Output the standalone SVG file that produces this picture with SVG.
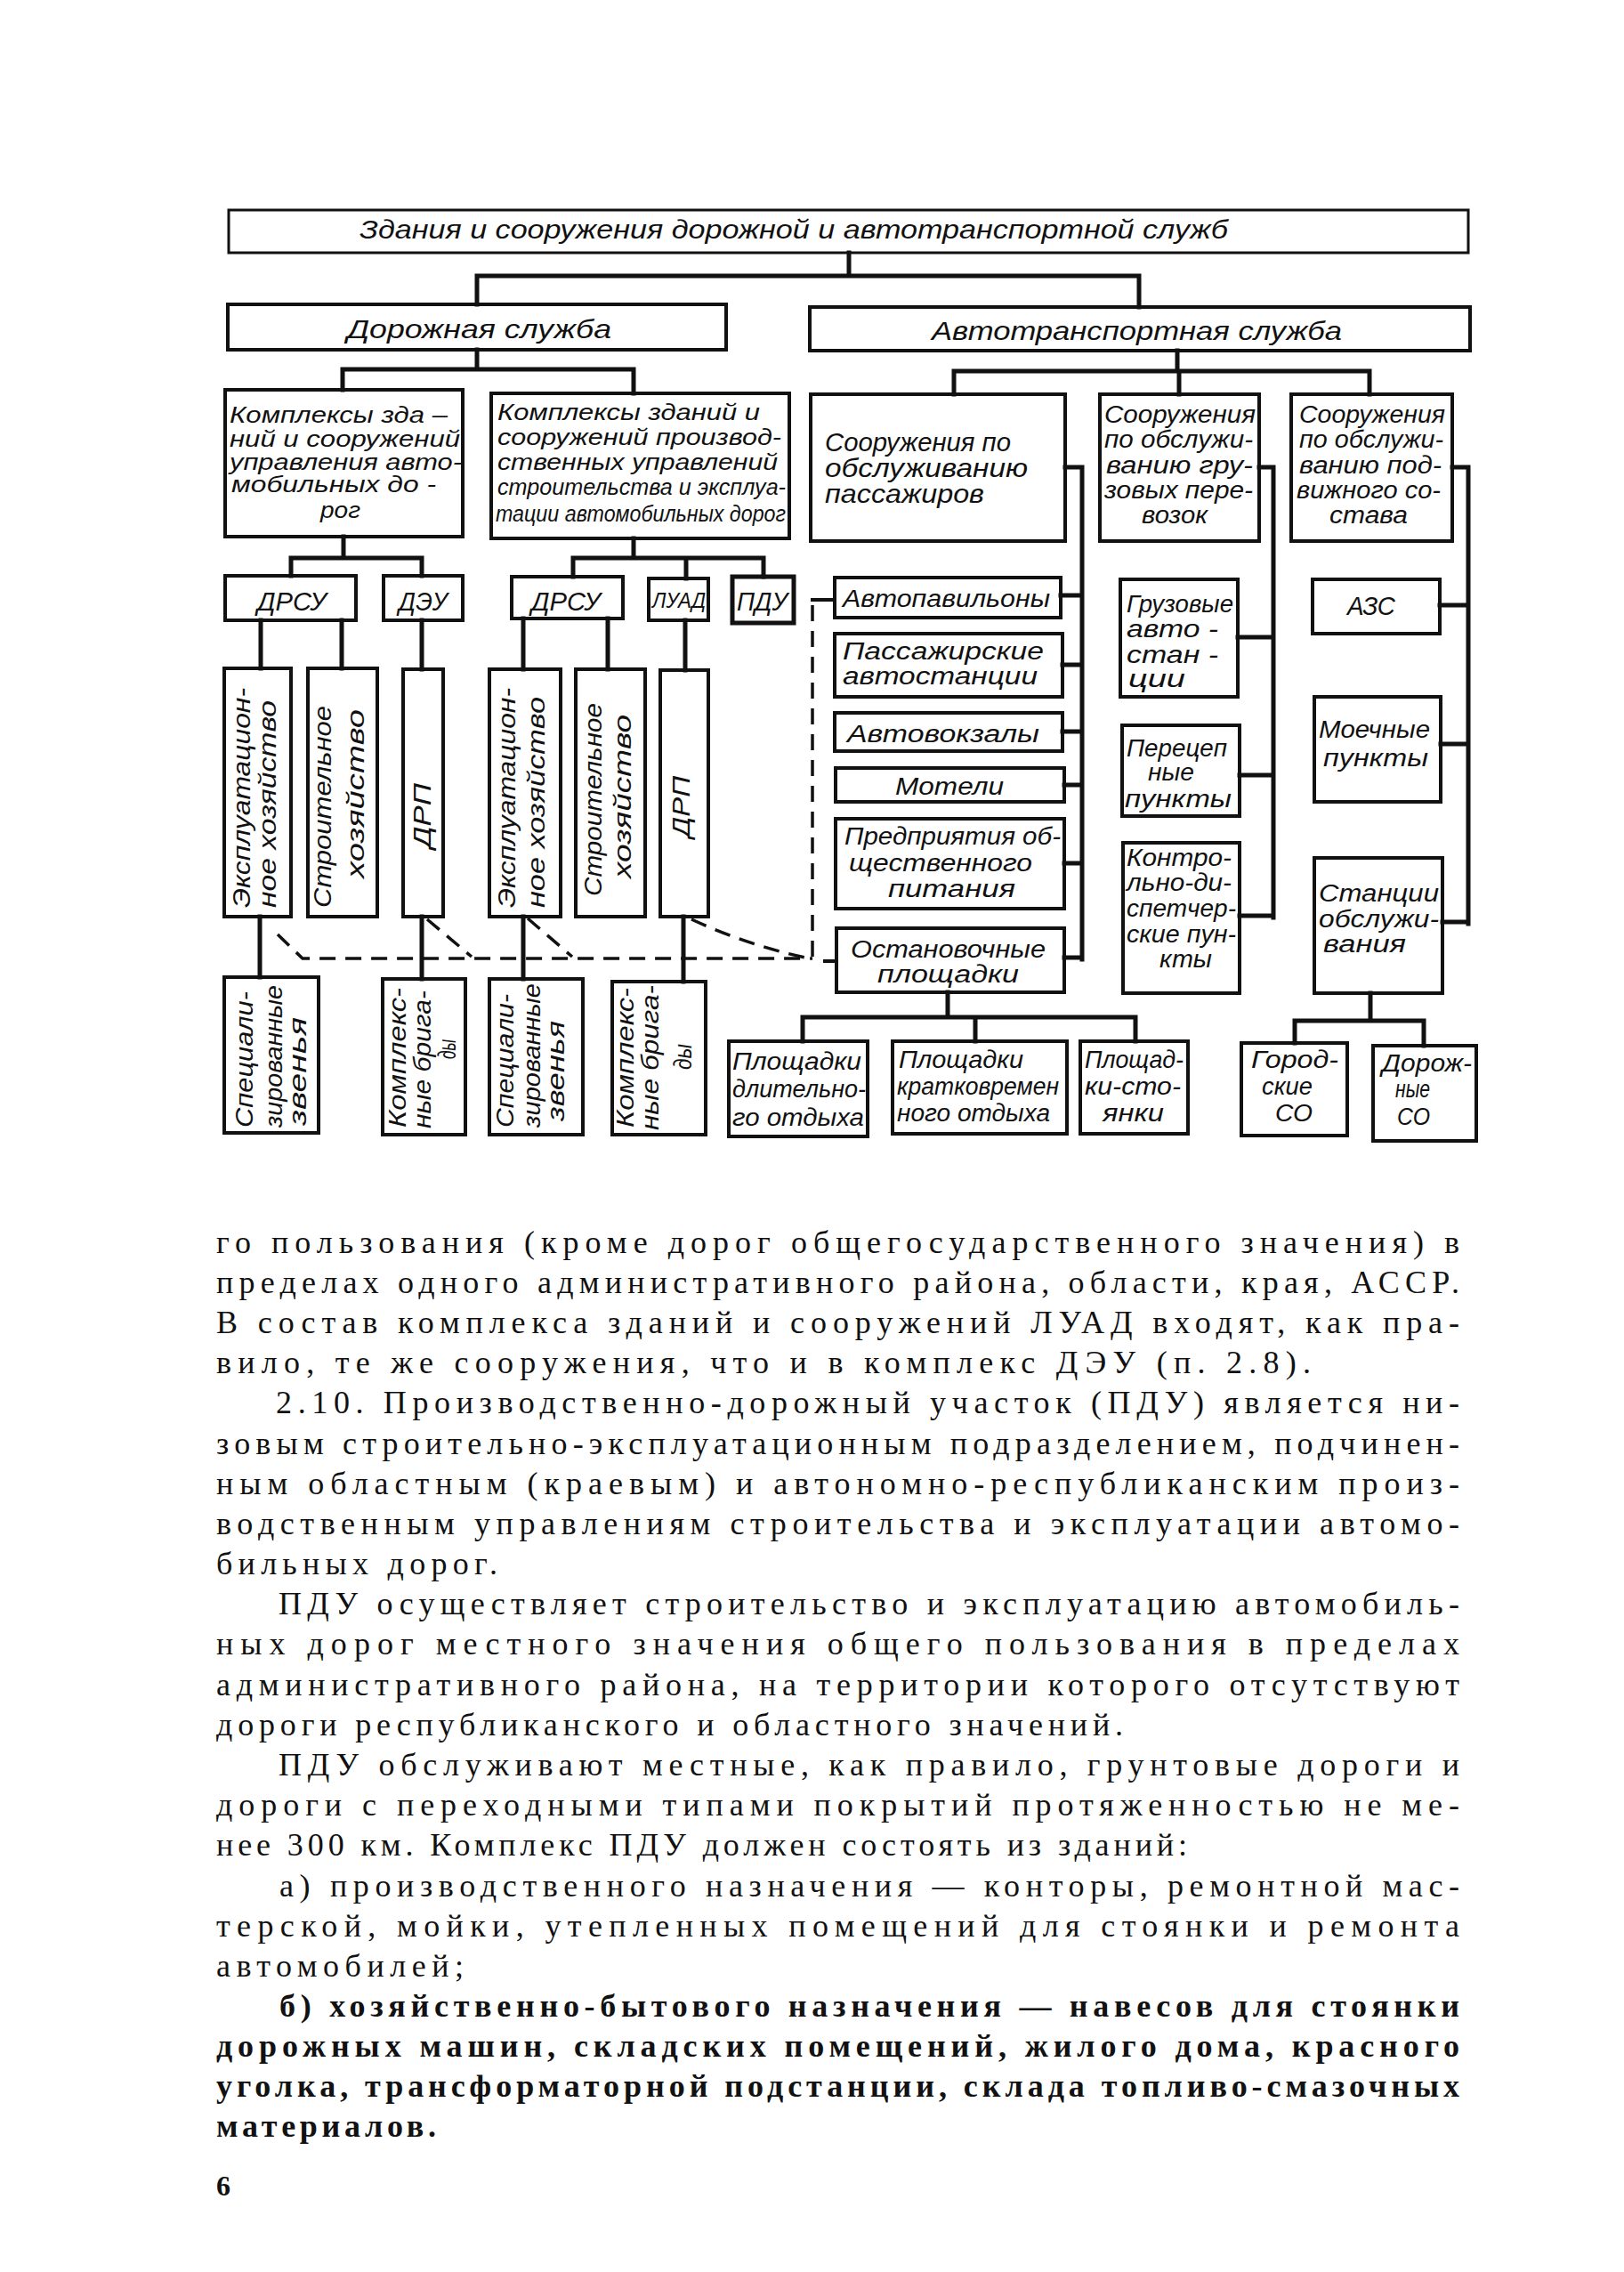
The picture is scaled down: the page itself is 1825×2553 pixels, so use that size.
<svg xmlns="http://www.w3.org/2000/svg" width="1825" height="2553" viewBox="0 0 1825 2553">
<style>
.box{fill:none;stroke:#111;stroke-width:4}
.ln{fill:none;stroke:#111;stroke-width:5;stroke-linecap:square}
.dash{fill:none;stroke:#111;stroke-width:3.5;stroke-dasharray:18 11}
.d{font-family:"Liberation Sans","DejaVu Sans",sans-serif;font-style:italic;fill:#111;font-size:27px}
.k{font-size:25px}
.big{font-size:30px}
.sm{font-size:23px}
.p{font-family:"Liberation Serif","DejaVu Serif",serif;font-size:36px;fill:#111}
.pb{font-weight:bold}
</style>
<rect x="0" y="0" width="1825" height="2553" fill="#fff"/>
<g id="connectors">
<path class="ln" d="M954 284V310M536 310H1280M536 310V342M1280 310V345"/>
<path class="ln" d="M536 393V415M385 415H712M385 415V438M712 415V442"/>
<path class="ln" d="M1323 394V417M1072 417H1539M1072 417V443M1325 417V443M1539 417V443"/>
<path class="ln" d="M386 603V627M327 627H474M327 627V647M474 627V647"/>
<path class="ln" d="M712 605V627M644 627H858M644 627V648M771 627V650M858 627V648"/>
<path class="ln" d="M293 697V751M384 697V751M474 697V752M588 695V752M683 695V752M770 697V753"/>
<path class="ln" d="M292 1030V1098M474 1030V1100M588 1030V1100M768 1030V1103"/>
<path class="ln" d="M1197 525H1216V1078M1192 669H1216M1194 747H1216M1194 822H1216M1196 882H1216M1196 970H1216M1196 1076H1216"/>
<path class="ln" d="M1415 525H1431V1031M1391 716H1431M1393 871H1431M1393 1029H1431"/>
<path class="ln" d="M1632 525H1650V1038M1618 680H1650M1619 836H1650M1621 1036H1650"/>
<path class="ln" d="M1540 1116V1147M1455 1147H1600M1455 1147V1172M1600 1147V1175"/>
<path class="ln" d="M1065 1115V1143M902 1143H1276M902 1143V1170M1096 1143V1170M1276 1143V1170"/>
<path class="ln" d="M913 674H938M927 1080H940" style="stroke-width:4"/>
<path class="dash" d="M913 680V1077"/>
<path class="dash" d="M312 1050L340 1077H913"/>
<path class="dash" d="M480 1033L530 1075"/>
<path class="dash" d="M593 1032L643 1075"/>
<path class="dash" d="M777 1033Q840 1062 905 1076"/>
</g>
<g id="n-top"><rect class="box" x="257" y="236" width="1393" height="48" style="stroke-width:3"/><text class="d big" x="404" y="268" textLength="976" lengthAdjust="spacingAndGlyphs">Здания и сооружения дорожной и автотранспортной служб</text></g>
<g id="n-dor"><rect class="box" x="256" y="342" width="560" height="51"/><text class="d big" x="390" y="380" textLength="297" lengthAdjust="spacingAndGlyphs">Дорожная служба</text></g>
<g id="n-avto"><rect class="box" x="910" y="345" width="742" height="49"/><text class="d big" x="1047" y="382" textLength="461" lengthAdjust="spacingAndGlyphs">Автотранспортная служба</text></g>
<g id="n-k1"><rect class="box" x="253" y="438" width="267" height="165"/>
<text class="d k" x="258" y="475" textLength="245" lengthAdjust="spacingAndGlyphs">Комплексы зда –</text>
<text class="d k" x="258" y="502" textLength="259" lengthAdjust="spacingAndGlyphs">ний и сооружений</text>
<text class="d k" x="258" y="528" textLength="261" lengthAdjust="spacingAndGlyphs">управления авто-</text>
<text class="d k" x="260" y="553" textLength="230" lengthAdjust="spacingAndGlyphs">мобильных до -</text>
<text class="d k" x="360" y="582" textLength="45" lengthAdjust="spacingAndGlyphs">рог</text></g>
<g id="n-k2"><rect class="box" x="552" y="442" width="335" height="163"/>
<text class="d k" x="559" y="472" textLength="295" lengthAdjust="spacingAndGlyphs">Комплексы зданий и</text>
<text class="d k" x="559" y="500" textLength="319" lengthAdjust="spacingAndGlyphs">сооружений производ-</text>
<text class="d k" x="559" y="528" textLength="315" lengthAdjust="spacingAndGlyphs">ственных управлений</text>
<text class="d k" x="559" y="556" textLength="324" lengthAdjust="spacingAndGlyphs">строительства и эксплуа-</text>
<text class="d k" x="557" y="586" textLength="326" lengthAdjust="spacingAndGlyphs">тации автомобильных дорог</text></g>
<g id="n-pass"><rect class="box" x="911" y="443" width="286" height="165"/>
<text class="d" style="font-size:29px" x="927" y="507" textLength="209" lengthAdjust="spacingAndGlyphs">Сооружения по</text>
<text class="d" style="font-size:29px" x="927" y="536" textLength="228" lengthAdjust="spacingAndGlyphs">обслуживанию</text>
<text class="d" style="font-size:29px" x="927" y="565" textLength="179" lengthAdjust="spacingAndGlyphs">пассажиров</text></g>
<g id="n-gruz"><rect class="box" x="1236" y="443" width="179" height="165"/>
<text class="d" x="1241" y="475" textLength="170" lengthAdjust="spacingAndGlyphs">Сооружения</text>
<text class="d" x="1241" y="503" textLength="167" lengthAdjust="spacingAndGlyphs">по обслужи-</text>
<text class="d" x="1243" y="532" textLength="165" lengthAdjust="spacingAndGlyphs">ванию гру-</text>
<text class="d" x="1241" y="560" textLength="167" lengthAdjust="spacingAndGlyphs">зовых пере-</text>
<text class="d" x="1283" y="588" textLength="74" lengthAdjust="spacingAndGlyphs">возок</text></g>
<g id="n-podv"><rect class="box" x="1451" y="443" width="181" height="165"/>
<text class="d" x="1460" y="475" textLength="164" lengthAdjust="spacingAndGlyphs">Сооружения</text>
<text class="d" x="1460" y="503" textLength="162" lengthAdjust="spacingAndGlyphs">по обслужи-</text>
<text class="d" x="1460" y="532" textLength="160" lengthAdjust="spacingAndGlyphs">ванию под-</text>
<text class="d" x="1457" y="560" textLength="162" lengthAdjust="spacingAndGlyphs">вижного со-</text>
<text class="d" x="1494" y="588" textLength="88" lengthAdjust="spacingAndGlyphs">става</text></g>
<g id="n-drsu1"><rect class="box" x="253" y="647" width="147" height="50"/><text class="d big" x="289" y="686" textLength="78" lengthAdjust="spacingAndGlyphs">ДРСУ</text></g>
<g id="n-deu"><rect class="box" x="431" y="647" width="89" height="50"/><text class="d big" x="448" y="686" textLength="55" lengthAdjust="spacingAndGlyphs">ДЭУ</text></g>
<g id="n-drsu2"><rect class="box" x="575" y="648" width="125" height="47"/><text class="d big" x="597" y="686" textLength="78" lengthAdjust="spacingAndGlyphs">ДРСУ</text></g>
<g id="n-luad"><rect class="box" x="729" y="650" width="67" height="47"/><text class="d sm" x="733" y="683" textLength="60" lengthAdjust="spacingAndGlyphs">ЛУАД</text></g>
<g id="n-pdu"><rect class="box" x="823" y="648" width="69" height="52" style="stroke-width:5"/><text class="d big" x="828" y="686" textLength="57" lengthAdjust="spacingAndGlyphs">ПДУ</text></g>
<g id="n-a"><rect class="box" x="252" y="751" width="75" height="279"/>
<text class="d" transform="translate(281 1020) rotate(-90)" textLength="247" lengthAdjust="spacingAndGlyphs">Эксплуатацион-</text>
<text class="d" transform="translate(310 1020) rotate(-90)" textLength="233" lengthAdjust="spacingAndGlyphs">ное хозяйство</text></g>
<g id="n-b"><rect class="box" x="346" y="751" width="78" height="279"/>
<text class="d" transform="translate(372 1020) rotate(-90)" textLength="227" lengthAdjust="spacingAndGlyphs">Строительное</text>
<text class="d" transform="translate(409 987) rotate(-90)" textLength="190" lengthAdjust="spacingAndGlyphs">хозяйство</text></g>
<g id="n-c"><rect class="box" x="453" y="752" width="45" height="278"/>
<text class="d" transform="translate(484 953) rotate(-90)" textLength="73" lengthAdjust="spacingAndGlyphs">ДРП</text></g>
<g id="n-d"><rect class="box" x="550" y="752" width="80" height="278"/>
<text class="d" transform="translate(579 1020) rotate(-90)" textLength="247" lengthAdjust="spacingAndGlyphs">Эксплуатацион-</text>
<text class="d" transform="translate(612 1020) rotate(-90)" textLength="237" lengthAdjust="spacingAndGlyphs">ное хозяйство</text></g>
<g id="n-e"><rect class="box" x="647" y="752" width="78" height="278"/>
<text class="d" transform="translate(676 1007) rotate(-90)" textLength="217" lengthAdjust="spacingAndGlyphs">Строительное</text>
<text class="d" transform="translate(709 987) rotate(-90)" textLength="184" lengthAdjust="spacingAndGlyphs">хозяйство</text></g>
<g id="n-f"><rect class="box" x="742" y="753" width="54" height="277"/>
<text class="d" transform="translate(775 941) rotate(-90)" textLength="69" lengthAdjust="spacingAndGlyphs">ДРП</text></g>
<g id="n-g"><rect class="box" x="252" y="1098" width="106" height="175"/>
<text class="d" transform="translate(284 1267) rotate(-90)" textLength="153" lengthAdjust="spacingAndGlyphs">Специали-</text>
<text class="d" transform="translate(317 1267) rotate(-90)" textLength="160" lengthAdjust="spacingAndGlyphs">зированные</text>
<text class="d" transform="translate(344 1265) rotate(-90)" textLength="122" lengthAdjust="spacingAndGlyphs">звенья</text></g>
<g id="n-h"><rect class="box" x="430" y="1100" width="93" height="175"/>
<text class="d" transform="translate(456 1267) rotate(-90)" textLength="157" lengthAdjust="spacingAndGlyphs">Комплекс-</text>
<text class="d" transform="translate(484 1268) rotate(-90)" textLength="155" lengthAdjust="spacingAndGlyphs">ные брига-</text>
<text class="d" transform="translate(512 1190) rotate(-90)" textLength="22" lengthAdjust="spacingAndGlyphs">ды</text></g>
<g id="n-i"><rect class="box" x="550" y="1100" width="105" height="175"/>
<text class="d" transform="translate(577 1267) rotate(-90)" textLength="150" lengthAdjust="spacingAndGlyphs">Специали-</text>
<text class="d" transform="translate(607 1267) rotate(-90)" textLength="162" lengthAdjust="spacingAndGlyphs">зированные</text>
<text class="d" transform="translate(634 1260) rotate(-90)" textLength="113" lengthAdjust="spacingAndGlyphs">звенья</text></g>
<g id="n-j"><rect class="box" x="688" y="1103" width="105" height="172"/>
<text class="d" transform="translate(712 1267) rotate(-90)" textLength="157" lengthAdjust="spacingAndGlyphs">Комплекс-</text>
<text class="d" transform="translate(740 1270) rotate(-90)" textLength="163" lengthAdjust="spacingAndGlyphs">ные брига-</text>
<text class="d" transform="translate(777 1202) rotate(-90)" textLength="29" lengthAdjust="spacingAndGlyphs">ды</text></g>
<g id="n-avtopav"><rect class="box" x="938" y="649" width="254" height="45"/><text class="d" x="947" y="682" textLength="233" lengthAdjust="spacingAndGlyphs">Автопавильоны</text></g>
<g id="n-passazh"><rect class="box" x="938" y="712" width="256" height="71"/>
<text class="d" x="947" y="741" textLength="226" lengthAdjust="spacingAndGlyphs">Пассажирские</text>
<text class="d" x="947" y="769" textLength="219" lengthAdjust="spacingAndGlyphs">автостанции</text></g>
<g id="n-avtovokz"><rect class="box" x="938" y="801" width="256" height="43"/><text class="d" x="952" y="834" textLength="216" lengthAdjust="spacingAndGlyphs">Автовокзалы</text></g>
<g id="n-moteli"><rect class="box" x="939" y="863" width="257" height="38"/><text class="d" x="1006" y="893" textLength="122" lengthAdjust="spacingAndGlyphs">Мотели</text></g>
<g id="n-predpr"><rect class="box" x="939" y="920" width="257" height="101"/>
<text class="d" x="949" y="949" textLength="243" lengthAdjust="spacingAndGlyphs">Предприятия об-</text>
<text class="d" x="954" y="979" textLength="206" lengthAdjust="spacingAndGlyphs">щественного</text>
<text class="d" x="998" y="1008" textLength="143" lengthAdjust="spacingAndGlyphs">питания</text></g>
<g id="n-ostan"><rect class="box" x="940" y="1043" width="256" height="72"/>
<text class="d" x="956" y="1076" textLength="219" lengthAdjust="spacingAndGlyphs">Остановочные</text>
<text class="d" x="986" y="1104" textLength="159" lengthAdjust="spacingAndGlyphs">площадки</text></g>
<g id="n-gruzav"><rect class="box" x="1259" y="651" width="132" height="132"/>
<text class="d" x="1266" y="688" textLength="120" lengthAdjust="spacingAndGlyphs">Грузовые</text>
<text class="d" x="1266" y="716" textLength="103" lengthAdjust="spacingAndGlyphs">авто -</text>
<text class="d" x="1266" y="745" textLength="103" lengthAdjust="spacingAndGlyphs">стан -</text>
<text class="d" x="1268" y="772" textLength="64" lengthAdjust="spacingAndGlyphs">ции</text></g>
<g id="n-perecep"><rect class="box" x="1261" y="815" width="132" height="102"/>
<text class="d" x="1266" y="850" textLength="113" lengthAdjust="spacingAndGlyphs">Перецеп</text>
<text class="d" x="1290" y="877" textLength="52" lengthAdjust="spacingAndGlyphs">ные</text>
<text class="d" x="1264" y="907" textLength="120" lengthAdjust="spacingAndGlyphs">пункты</text></g>
<g id="n-kontr"><rect class="box" x="1262" y="947" width="131" height="169"/>
<text class="d" x="1266" y="973" textLength="118" lengthAdjust="spacingAndGlyphs">Контро-</text>
<text class="d" x="1266" y="1001" textLength="118" lengthAdjust="spacingAndGlyphs">льно-ди-</text>
<text class="d" x="1266" y="1030" textLength="123" lengthAdjust="spacingAndGlyphs">спетчер-</text>
<text class="d" x="1266" y="1059" textLength="123" lengthAdjust="spacingAndGlyphs">ские пун-</text>
<text class="d" x="1303" y="1087" textLength="59" lengthAdjust="spacingAndGlyphs">кты</text></g>
<g id="n-azs"><rect class="box" x="1475" y="651" width="143" height="61"/><text class="d big" x="1514" y="691" textLength="54" lengthAdjust="spacingAndGlyphs">АЗС</text></g>
<g id="n-moech"><rect class="box" x="1477" y="783" width="142" height="118"/>
<text class="d" x="1482" y="829" textLength="125" lengthAdjust="spacingAndGlyphs">Моечные</text>
<text class="d" x="1487" y="861" textLength="118" lengthAdjust="spacingAndGlyphs">пункты</text></g>
<g id="n-stanc"><rect class="box" x="1477" y="964" width="144" height="152"/>
<text class="d" x="1482" y="1013" textLength="135" lengthAdjust="spacingAndGlyphs">Станции</text>
<text class="d" x="1482" y="1042" textLength="135" lengthAdjust="spacingAndGlyphs">обслужи-</text>
<text class="d" x="1487" y="1070" textLength="93" lengthAdjust="spacingAndGlyphs">вания</text></g>
<g id="n-pldlit"><rect class="box" x="819" y="1170" width="156" height="107"/>
<text class="d" x="823" y="1202" textLength="145" lengthAdjust="spacingAndGlyphs">Площадки</text>
<text class="d" x="823" y="1233" textLength="150" lengthAdjust="spacingAndGlyphs">длительно-</text>
<text class="d" x="823" y="1265" textLength="148" lengthAdjust="spacingAndGlyphs">го отдыха</text></g>
<g id="n-plkrat"><rect class="box" x="1003" y="1170" width="196" height="104"/>
<text class="d" x="1010" y="1200" textLength="140" lengthAdjust="spacingAndGlyphs">Площадки</text>
<text class="d" x="1008" y="1230" textLength="182" lengthAdjust="spacingAndGlyphs">кратковремен</text>
<text class="d" x="1008" y="1260" textLength="172" lengthAdjust="spacingAndGlyphs">ного отдыха</text></g>
<g id="n-plstoy"><rect class="box" x="1214" y="1170" width="121" height="104"/>
<text class="d" x="1219" y="1200" textLength="111" lengthAdjust="spacingAndGlyphs">Площад-</text>
<text class="d" x="1219" y="1230" textLength="108" lengthAdjust="spacingAndGlyphs">ки-сто-</text>
<text class="d" x="1239" y="1260" textLength="69" lengthAdjust="spacingAndGlyphs">янки</text></g>
<g id="n-gor"><rect class="box" x="1395" y="1172" width="119" height="104"/>
<text class="d" x="1406" y="1200" textLength="98" lengthAdjust="spacingAndGlyphs">Город-</text>
<text class="d" x="1418" y="1230" textLength="57" lengthAdjust="spacingAndGlyphs">ские</text>
<text class="d" x="1433" y="1260" textLength="42" lengthAdjust="spacingAndGlyphs">СО</text></g>
<g id="n-dorzh"><rect class="box" x="1543" y="1175" width="116" height="107"/>
<text class="d" x="1553" y="1204" textLength="101" lengthAdjust="spacingAndGlyphs">Дорож-</text>
<text class="d" x="1568" y="1233" textLength="39" lengthAdjust="spacingAndGlyphs">ные</text>
<text class="d" x="1570" y="1264" textLength="37" lengthAdjust="spacingAndGlyphs">СО</text></g>
<g id="body-text">
<text class="p" x="243" y="1408" textLength="1397" lengthAdjust="spacing">го пользования (кроме дорог общегосударственного значения) в</text>
<text class="p" x="243" y="1453" textLength="1397" lengthAdjust="spacing">пределах одного административного района, области, края, АССР.</text>
<text class="p" x="243" y="1498" textLength="1397" lengthAdjust="spacing">В состав комплекса зданий и сооружений ЛУАД входят, как пра-</text>
<text class="p" x="243" y="1543" textLength="1230" lengthAdjust="spacing">вило, те же сооружения, что и в комплекс ДЭУ (п. 2.8).</text>
<text class="p" x="310" y="1588" textLength="1330" lengthAdjust="spacing">2.10. Производственно-дорожный участок (ПДУ) является ни-</text>
<text class="p" x="243" y="1634" textLength="1397" lengthAdjust="spacing">зовым строительно-эксплуатационным подразделением, подчинен-</text>
<text class="p" x="243" y="1679" textLength="1397" lengthAdjust="spacing">ным областным (краевым) и автономно-республиканским произ-</text>
<text class="p" x="243" y="1724" textLength="1397" lengthAdjust="spacing">водственным управлениям строительства и эксплуатации автомо-</text>
<text class="p" x="243" y="1769" textLength="316" lengthAdjust="spacing">бильных дорог.</text>
<text class="p" x="313" y="1814" textLength="1327" lengthAdjust="spacing">ПДУ осуществляет строительство и эксплуатацию автомобиль-</text>
<text class="p" x="243" y="1859" textLength="1397" lengthAdjust="spacing">ных дорог местного значения общего пользования в пределах</text>
<text class="p" x="243" y="1905" textLength="1397" lengthAdjust="spacing">административного района, на территории которого отсутствуют</text>
<text class="p" x="243" y="1950" textLength="1019" lengthAdjust="spacing">дороги республиканского и областного значений.</text>
<text class="p" x="313" y="1995" textLength="1327" lengthAdjust="spacing">ПДУ обслуживают местные, как правило, грунтовые дороги и</text>
<text class="p" x="243" y="2040" textLength="1397" lengthAdjust="spacing">дороги с переходными типами покрытий протяженностью не ме-</text>
<text class="p" x="243" y="2085" textLength="1091" lengthAdjust="spacing">нее 300 км. Комплекс ПДУ должен состоять из зданий:</text>
<text class="p" x="314" y="2131" textLength="1326" lengthAdjust="spacing">а) производственного назначения — конторы, ремонтной мас-</text>
<text class="p" x="243" y="2176" textLength="1397" lengthAdjust="spacing">терской, мойки, утепленных помещений для стоянки и ремонта</text>
<text class="p" x="243" y="2221" textLength="278" lengthAdjust="spacing">автомобилей;</text>
<text class="p pb" x="314" y="2266" textLength="1326" lengthAdjust="spacing">б) хозяйственно-бытового назначения — навесов для стоянки</text>
<text class="p pb" x="243" y="2311" textLength="1397" lengthAdjust="spacing">дорожных машин, складских помещений, жилого дома, красного</text>
<text class="p pb" x="243" y="2356" textLength="1397" lengthAdjust="spacing">уголка, трансформаторной подстанции, склада топливо-смазочных</text>
<text class="p pb" x="243" y="2401" textLength="247" lengthAdjust="spacing">материалов.</text>
<text class="p pb" x="243" y="2467" style="font-size:32px">6</text>
</g>
</svg>
